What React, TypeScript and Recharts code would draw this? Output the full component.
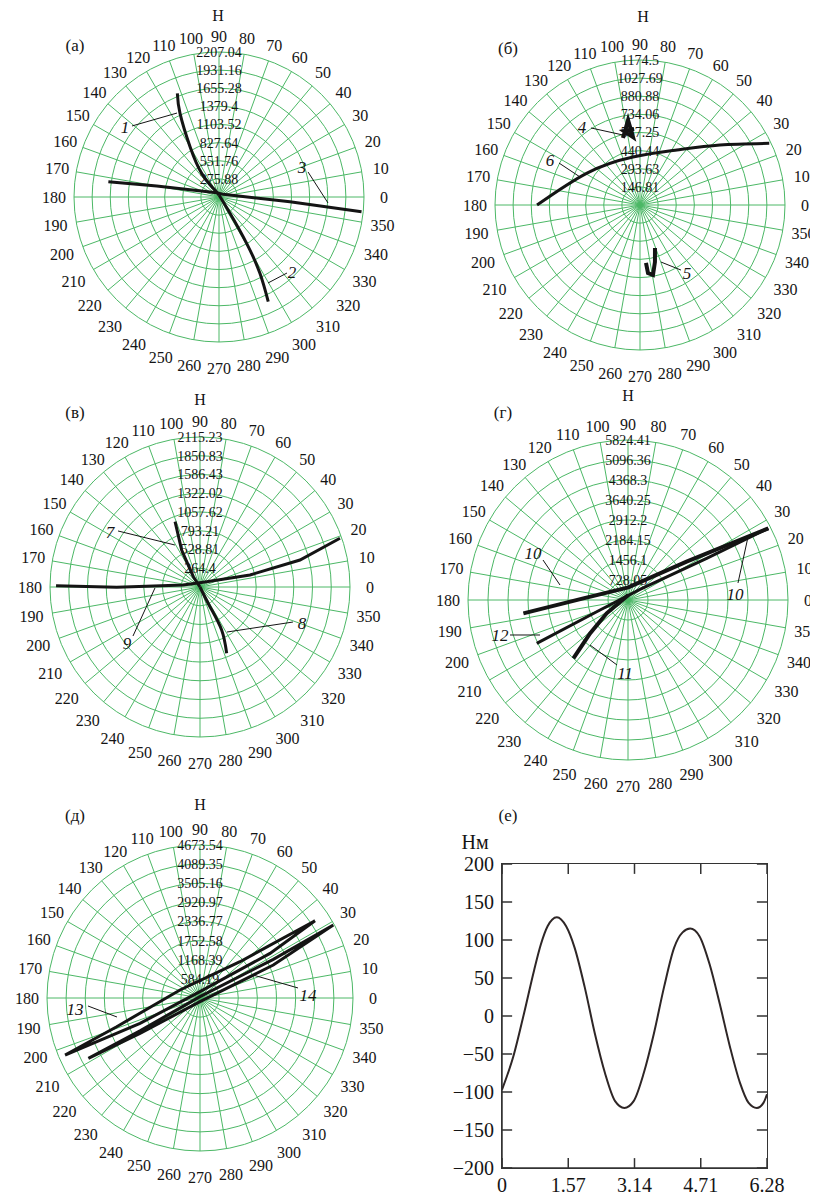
import React from "react";
import {
    RadarChart,
    PolarGrid,
    PolarAngleAxis,
    ScatterChart,
    Scatter,
    XAxis,
    YAxis,
    ReferenceDot,
    ReferenceLine
} from "recharts";

const FONT = "'Liberation Serif', 'DejaVu Serif', serif";
const GRID = "#4cb866";
const INK = "#141414";

type Pt = [number, number]; // [angle, deg ; force, Н]
type XY = [number, number]; // cartesian, Н
type Note = { text: string; at: XY; from: XY; to: XY };

const angleTicks = [0, 10, 20, 30, 40, 50, 60, 70, 80, 90, 100, 110, 120, 130, 140, 150, 160, 170,
    180, 190, 200, 210, 220, 230, 240, 250, 260, 270, 280, 290, 300, 310, 320, 330, 340, 350];

// (а)
const ringsA = [275.88, 551.76, 827.64, 1103.52, 1379.4, 1655.28, 1931.16, 2207.04];
const curveA1: Pt[] = [[90, 30], [123.2, 157], [126.2, 446], [119.9, 884], [115, 1404], [111.9, 1700]];
const curveA2: Pt[] = [[90, 30], [304, 299], [300.8, 821], [298.2, 1318], [295.2, 1760]];
const curveA3: Pt[] = [[172.1, 1700], [170, 963], [118.3, 75], [31.6, 77], [356.2, 1082], [354.1, 2181]];
const notesA: Note[] = [
    { text: "1", at: [-1431, 1065], from: [-1324, 1081], to: [-639, 1278] },
    { text: "2", at: [1111, -1142], from: [1035, -1157], to: [746, -1309] },
    { text: "3", at: [1263, 457], from: [1355, 381], to: [1659, -91] }
];

// (б)
const ringsB = [146.81, 293.63, 440.44, 587.25, 734.06, 880.88, 1027.69, 1174.5];
const curveB4: Pt[] = [[104.2, 560], [98, 695], [95.9, 554], [102.2, 613], [94.5, 617]];
const curveB5: Pt[] = [[289.2, 369], [284.7, 477], [280.5, 577], [276.7, 555], [275.9, 472]];
const curveB6: Pt[] = [[180, 834], [148.9, 501], [98.3, 393], [56.1, 537], [36.9, 810], [25.5, 1160]];
const notesB: Note[] = [
    { text: "4", at: [-470, 632], from: [-397, 624], to: [-138, 567] },
    { text: "5", at: [381, -551], from: [332, -527], to: [170, -462] },
    { text: "6", at: [-729, 365], from: [-656, 340], to: [-486, 227] }
];

// (в)
const ringsV = [264.4, 528.81, 793.21, 1057.62, 1322.02, 1586.43, 1850.83, 2115.23];
const curveV7: Pt[] = [[110.9, 986], [116.4, 582], [122.8, 173], [90, 0]];
const curveV8: Pt[] = [[90, 0], [296.9, 311], [296.7, 679], [291.9, 1008]];
const curveV9: Pt[] = [[179.5, 2030], [180.2, 1175], [173, 237], [38.7, 120], [13.5, 725], [15.1, 1460], [19.2, 2090]];
const notesV: Note[] = [
    { text: "7", at: [-1269, 776], from: [-1156, 790], to: [-353, 592] },
    { text: "8", at: [1438, -508], from: [1311, -494], to: [381, -635] },
    { text: "9", at: [-1029, -790], from: [-945, -691], to: [-635, -14] }
];

// (г)
const ringsG = [728.05, 1456.1, 2184.15, 2912.2, 3640.25, 4368.3, 5096.36, 5824.41];
const curveG10: Pt[] = [[187.3, 3840], [177.9, 1627], [88.5, 461], [33.2, 2548], [27.05, 5736]];
const curveG12: Pt[] = [[27.05, 5736], [27.9, 3240], [41.6, 584], [199.7, 1081], [205.4, 3677]];
const curveG11: Pt[] = [[226.9, 2910], [221.3, 1840], [212, 916], [86, 182]];
const notesG: Note[] = [
    { text: "10", at: [3895, 218], from: [4004, 619], to: [4368, 2293] },
    { text: "10", at: [-3458, 1711], from: [-3094, 1456], to: [-2475, 546] },
    { text: "12", at: [-4659, -1274], from: [-4295, -1274], to: [-3203, -1274] },
    { text: "11", at: [-109, -2657], from: [-400, -2366], to: [-1383, -1638] }
];

// (д)
const ringsD = [584.19, 1168.39, 1752.58, 2336.77, 2920.97, 3505.16, 4089.35, 4673.54];
const loopD13: Pt[] = [[202.9, 4475], [199, 2692], [158.2, 658], [42.2, 1650], [33.9, 4232], [32.5, 2536], [90, 193], [202.9, 1989], [202.9, 4475]];
const loopD14: Pt[] = [[208.4, 3876], [210.5, 2127], [270, 112], [24.2, 2455], [28.7, 4642], [27.8, 2532], [90, 41], [208.6, 2087], [208.4, 3876]];
const notesD: Note[] = [
    { text: "13", at: [-3819, -336], from: [-3422, -244], to: [-2536, -580] },
    { text: "14", at: [3299, 92], from: [2994, 306], to: [1619, 703] }
];

// (е) torque, Нм
const eX = [0, 0.28, 0.52, 0.76, 0.92, 1.08, 1.3, 1.52, 1.72, 1.96, 2.2, 2.44, 2.68, 2.9, 3.12, 3.36, 3.6, 3.84,
    4.08, 4.28, 4.46, 4.68, 4.92, 5.16, 5.4, 5.64, 5.84, 6.04, 6.2, 6.28];
const eY = [-97, -51, 3, 60, 94, 118, 130, 118, 90, 38, -23, -75, -112, -121, -112, -75, -23, 38,
    90, 110, 115, 105, 68, 16, -40, -88, -114, -121, -114, -103];
const eTicksX = [0, 1.57, 3.14, 4.71, 6.28];
const eTicksY = [-200, -150, -100, -50, 0, 50, 100, 150, 200];

const angleData = angleTicks.map((a) => ({ angle: a }));

const toXY = (p: Pt) => {
    const a = (p[0] * Math.PI) / 180;
    return { x: p[1] * Math.cos(a), y: p[1] * Math.sin(a) };
};

const blank = () => <g />;

type Curve = { pts: Pt[]; w?: number; smooth?: boolean };

function Caption({ x, y, children, size = 17 }: { x: number; y: number; children: React.ReactNode; size?: number }) {
    return (
        <div
            style={{
                position: "absolute",
                left: x - 8,
                top: y - 8,
                transform: "translate(-50%, -50%)",
                fontFamily: FONT,
                fontSize: size,
                lineHeight: 1,
                color: INK,
                whiteSpace: "nowrap"
            }}
        >
            {children}
        </div>
    );
}

function PolarPanel({ cx, cy, R, rings, curves, notes }: {
    cx: number;
    cy: number;
    R: number;
    rings: number[];
    curves: Curve[];
    notes: Note[];
}) {
    const half = R + 60;
    const S = half * 2;
    const gap = half - R;
    const max = rings[rings.length - 1];
    const ringPx = rings.map((v) => (v / max) * R);

    const angleTick = (props: any) => {
        const { x, y, payload } = props;
        const dx = x - half;
        const dy = y - half;
        const d = Math.hypot(dx, dy) || 1;
        const ux = dx / d;
        const uy = dy / d;
        const extra = 12 + (uy > 0 ? uy * 6 : uy * 4);
        return (
            <text
                x={x + ux * extra}
                y={y + uy * extra}
                textAnchor="middle"
                dominantBaseline="central"
                fontSize={16}
                fontFamily={FONT}
                fill={INK}
            >
                {payload.value}
            </text>
        );
    };

    return (
        <div style={{ position: "absolute", left: cx - half - 8, top: cy - half - 8, width: S, height: S }}>
            <div style={{ position: "absolute", left: 0, top: 0 }}>
                <RadarChart
                    width={S}
                    height={S}
                    data={angleData}
                    cx={half}
                    cy={half}
                    innerRadius={0}
                    outerRadius={R}
                    startAngle={10}
                    endAngle={370}
                    margin={{ top: 0, right: 0, bottom: 0, left: 0 }}
                >
                    <PolarGrid gridType="circle" polarAngles={angleTicks} polarRadius={ringPx} stroke={GRID} strokeWidth={1} />
                    <PolarAngleAxis dataKey="angle" tick={angleTick} tickLine={false} axisLine={false} />
                </RadarChart>
            </div>
            <div style={{ position: "absolute", left: 0, top: 0 }}>
                <ScatterChart width={S} height={S} margin={{ top: gap, right: gap, bottom: gap, left: gap }}>
                    <XAxis type="number" dataKey="x" domain={[-max, max]} allowDataOverflow hide />
                    <YAxis type="number" dataKey="y" domain={[-max, max]} allowDataOverflow hide />
                    {rings.map((v) => (
                        <ReferenceDot
                            key={v}
                            x={0}
                            y={v}
                            r={0}
                            ifOverflow="visible"
                            label={{ value: String(v), position: "center", fill: INK, fontSize: 14, fontFamily: FONT }}
                        />
                    ))}
                    {notes.map((n, i) => (
                        <ReferenceLine
                            key={"l" + i}
                            segment={[{ x: n.from[0], y: n.from[1] }, { x: n.to[0], y: n.to[1] }]}
                            stroke={INK}
                            strokeWidth={1}
                            ifOverflow="visible"
                        />
                    ))}
                    {notes.map((n, i) => (
                        <ReferenceDot
                            key={"t" + i}
                            x={n.at[0]}
                            y={n.at[1]}
                            r={0}
                            ifOverflow="visible"
                            label={{ value: n.text, position: "center", fill: INK, fontSize: 17, fontFamily: FONT, fontStyle: "italic" }}
                        />
                    ))}
                    {curves.map((c, i) => (
                        <Scatter
                            key={i}
                            data={c.pts.map(toXY)}
                            line={{ stroke: INK, strokeWidth: c.w ?? 3 }}
                            lineJointType={c.smooth ? "natural" : "linear"}
                            shape={blank}
                            isAnimationActive={false}
                        />
                    ))}
                </ScatterChart>
            </div>
        </div>
    );
}

const fmtMinus = (v: number) => (v < 0 ? "\u2212" + Math.abs(v) : String(v));

// inward tick length of the framed torque plot, in data units
const TICK_DX = 0.24;
const TICK_DY = 13;
const FR = "#333";

function TorquePanel() {
    const data = eX.map((x, i) => ({ x, y: eY[i] }));
    const tickStyle = { fontSize: 20, fontFamily: FONT, fill: INK };
    const xMin = eTicksX[0];
    const xMax = eTicksX[eTicksX.length - 1];
    const yMax = eTicksY[eTicksY.length - 1];
    const yMin = eTicksY[0];
    const W = 360;
    const H = 350;
    const M = { top: 14, right: 23, left: 12, bottom: 2 };

    const marks = [
        ...eTicksX.map((t) => [{ x: t, y: yMax }, { x: t, y: yMax - TICK_DY }]),
        ...eTicksX.map((t) => [{ x: t, y: yMin }, { x: t, y: yMin + TICK_DY }]),
        ...eTicksY.map((t) => [{ x: xMin, y: t }, { x: xMin + TICK_DX, y: t }]),
        ...eTicksY.map((t) => [{ x: xMax, y: t }, { x: xMax - TICK_DX, y: t }])
    ];

    return (
        <div style={{ position: "absolute", left: 430 - 8, top: 850 - 8, width: W, height: H }}>
            <ScatterChart width={W} height={H} margin={M}>
                <XAxis
                    dataKey="x"
                    type="number"
                    domain={[xMin, xMax]}
                    ticks={eTicksX}
                    interval={0}
                    height={30}
                    tickSize={-10}
                    tickMargin={20}
                    axisLine={{ stroke: FR, strokeWidth: 1.5 }}
                    tickLine={false}
                    tick={tickStyle}
                />
                <YAxis
                    dataKey="y"
                    type="number"
                    domain={[yMin, yMax]}
                    ticks={eTicksY}
                    interval={0}
                    width={60}
                    tickSize={-10}
                    tickMargin={18}
                    axisLine={{ stroke: FR, strokeWidth: 1.5 }}
                    tickLine={false}
                    tick={tickStyle}
                    tickFormatter={fmtMinus}
                />
                {marks.map((m, i) => (
                    <Scatter
                        key={"m" + i}
                        data={m}
                        line={{ stroke: FR, strokeWidth: 1.5 }}
                        lineJointType="linear"
                        shape={blank}
                        isAnimationActive={false}
                    />
                ))}
                <Scatter
                    data={data}
                    line={{ stroke: "#2e2626", strokeWidth: 2 }}
                    lineJointType="monotoneX"
                    shape={blank}
                    isAnimationActive={false}
                />
            </ScatterChart>
            {/* plot-area box: left/top/right/bottom follow the chart margins and axis sizes above */}
            <div
                style={{
                    position: "absolute",
                    left: M.left + 60 - 1,
                    top: M.top - 1,
                    width: W - M.left - 60 - M.right,
                    height: H - M.top - M.bottom - 30,
                    border: `1.5px solid ${FR}`,
                    pointerEvents: "none"
                }}
            />
        </div>
    );
}

export default function App() {
    return (
        <div style={{ position: "relative", width: 810, height: 1192, overflow: "hidden", background: "#fff" }}>
            <PolarPanel cx={219} cy={197} R={145} rings={ringsA}
                curves={[{ pts: curveA1, smooth: true }, { pts: curveA2, smooth: true }, { pts: curveA3 }]}
                notes={notesA} />
            <PolarPanel cx={640} cy={205} R={145} rings={ringsB}
                curves={[{ pts: curveB4, w: 4 }, { pts: curveB5, w: 4 }, { pts: curveB6, smooth: true }]}
                notes={notesB} />
            <PolarPanel cx={200} cy={587} R={150} rings={ringsV}
                curves={[{ pts: curveV7 }, { pts: curveV8, smooth: true }, { pts: curveV9 }]}
                notes={notesV} />
            <PolarPanel cx={628} cy={600} R={160} rings={ringsG}
                curves={[{ pts: curveG10, w: 4 }, { pts: curveG12 }, { pts: curveG11, w: 4 }]}
                notes={notesG} />
            <PolarPanel cx={200} cy={998} R={153} rings={ringsD}
                curves={[{ pts: loopD13 }, { pts: loopD14 }]}
                notes={notesD} />
            <TorquePanel />

            <Caption x={75} y={45}>(а)</Caption>
            <Caption x={218} y={16} size={16}>Н</Caption>
            <Caption x={508} y={48}>(б)</Caption>
            <Caption x={643} y={17} size={16}>Н</Caption>
            <Caption x={75} y={412}>(в)</Caption>
            <Caption x={200} y={400} size={16}>Н</Caption>
            <Caption x={503} y={412}>(г)</Caption>
            <Caption x={628} y={396} size={16}>Н</Caption>
            <Caption x={75} y={815}>(д)</Caption>
            <Caption x={200} y={805} size={16}>Н</Caption>
            <Caption x={508} y={815}>(е)</Caption>
            <Caption x={475} y={842} size={20}>Нм</Caption>
        </div>
    );
}
